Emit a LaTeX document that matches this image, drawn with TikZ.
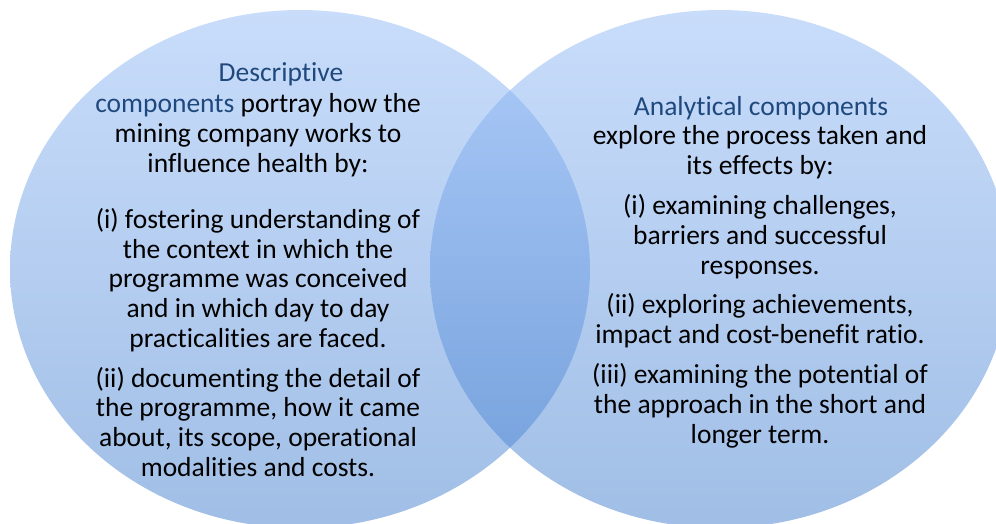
\documentclass[tikz,border=0pt]{standalone}
\usepackage{fontspec}
\setmainfont{Carlito}[Ligatures=NoCommon]
\definecolor{titleblue}{RGB}{31,73,125}
\definecolor{topblue}{RGB}{147,187,247}
\definecolor{botblue}{RGB}{65,125,205}

\begin{document}
\begin{tikzpicture}[x=1pt,y=-1pt,
  venn/.style={top color=topblue,bottom color=botblue,fill opacity=0.5},
  txt/.style={align=center,inner sep=0pt,anchor=base,font=\fontsize{27.5}{29.6}\selectfont}]
\useasboundingbox (0,0) rectangle (996,523);
\clip (0,0) rectangle (996,523);
% circles
\shade[venn] (300,269) ellipse [x radius=290,y radius=259];
\shade[venn] (720,269) ellipse [x radius=290,y radius=259];
% left side (base = last line)
\node[txt,text=titleblue] (desc) at (281,81) {Descriptive};
\node[txt] (descintro) at (258,172) {\textcolor{titleblue}{components} portray how the\\mining company works to\\influence health by:};
\node[txt] (desci) at (258,347) {(i) fostering understanding of\\the context in which the\\programme was conceived\\and in which day to day\\practicalities are faced.};
\node[txt] (descii) at (258,476) {(ii) documenting the detail of\\the programme, how it came\\about, its scope, operational\\modalities and costs.};
% right side
\node[txt,text=titleblue] (anal) at (761,115) {Analytical components};
\node[txt] (analintro) at (760,174) {explore the process taken and\\its effects by:};
\node[txt] (anali) at (760,274) {(i) examining challenges,\\barriers and successful\\responses.};
\node[txt] (analii) at (760,343) {(ii) exploring achievements,\\impact and cost-benefit ratio.};
\node[txt] (analiii) at (760,443) {(iii) examining the potential of\\the approach in the short and\\longer term.};
\end{tikzpicture}
\end{document}
